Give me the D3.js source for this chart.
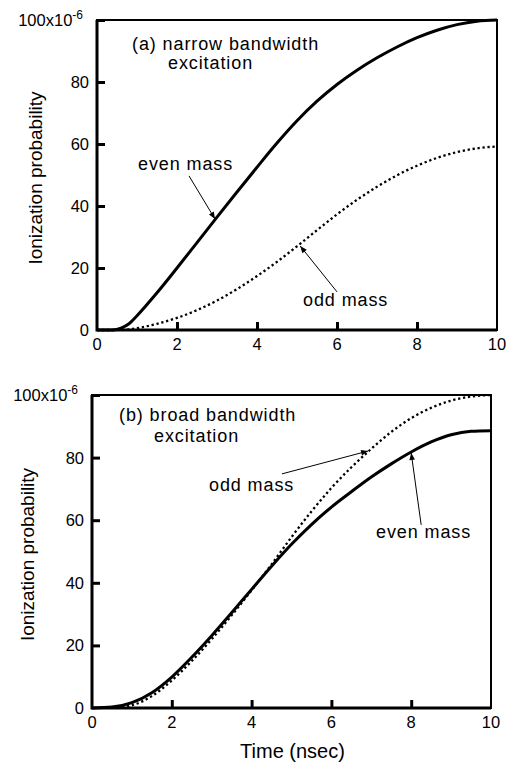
<!DOCTYPE html>
<html>
<head>
<meta charset="utf-8">
<script src="https://cdn.jsdelivr.net/npm/d3@7"></script>
<style>
  body { margin: 0; background: #fff; }
  svg text { font-family: "Liberation Sans", Arial, Helvetica, sans-serif; fill: #000; }
</style>
</head>
<body>
<div id="chart"></div>
<script>
// time axis (nsec) and the two curves of each panel, ionization probability in units of 1e-6
var timeA = [0, 0.4, 0.6, 0.8, 1.0, 1.5, 2, 2.5, 3, 3.5, 4, 4.5, 5, 5.5, 6, 6.5, 7, 7.5, 8, 8.5, 9, 9.5, 10];
var evenA = [0, 0, 0.6, 2, 4.6, 12, 20, 28.2, 36.4, 44.5, 52.5, 60.3, 67.5, 73.8, 79.2, 83.8, 87.8, 91.3, 94.3, 96.7, 98.5, 99.6, 100];
var oddA  = [0, 0, 0.05, 0.2, 0.6, 2, 3.9, 6.4, 9.5, 13.2, 17.4, 22, 27, 32.2, 37.3, 42, 46.2, 49.9, 53, 55.5, 57.4, 58.6, 59.2];

var timeB = [0, 0.5, 1, 1.5, 2, 2.5, 3, 3.5, 4, 4.5, 5, 5.5, 6, 6.5, 7, 7.5, 8, 8.5, 9, 9.5, 10];
var evenB = [0, 0.3, 1.7, 4.9, 9.9, 16.2, 23.1, 30.4, 37.9, 45.3, 52.3, 58.6, 64.2, 69.1, 73.8, 78, 81.8, 85, 87.3, 88.4, 88.6];
var oddB  = [0, 0.1, 0.9, 3.8, 8.8, 15, 22, 29.6, 37.6, 45.9, 54.6, 62.8, 70.3, 76.9, 82.8, 88.2, 92.6, 95.9, 98.2, 99.5, 100];

var xTicks = [0, 2, 4, 6, 8, 10];
var yTicks = [0, 20, 40, 60, 80, 100];

var width = 509, height = 763;
var svg = d3.select('#chart').append('svg')
    .attr('width', width)
    .attr('height', height);

svg.append('defs').append('marker')
    .attr('id', 'arrow')
    .attr('viewBox', '0 0 10 10')
    .attr('refX', 10).attr('refY', 5)
    .attr('markerWidth', 9).attr('markerHeight', 7)
    .attr('markerUnits', 'userSpaceOnUse')
    .attr('orient', 'auto')
  .append('path')
    .attr('d', 'M0,1 L10,5 L0,9 Z')
    .attr('fill', '#000');

var panels = [
  {
    left: 97, right: 497, top: 20, bottom: 330, titleX: 42,
    time: timeA, even: evenA, odd: oddA,
    title: ['(a) narrow bandwidth', 'excitation'],
    titlePos: [[0.875, 90.3], [1.775, 84.2]],
    labels: [
      { text: 'even mass', at: [1.025, 51.6], from: [2.3, 49.7], to: [2.95, 35.8] },
      { text: 'odd mass', at: [5.15, 7.7], from: [6.0, 12.3], to: [5.08, 27.1] }
    ],
    xTitle: false
  },
  {
    left: 92, right: 491, top: 395, bottom: 708, titleX: 34,
    time: timeB, even: evenB, odd: oddB,
    title: ['(b) broad bandwidth', 'excitation'],
    titlePos: [[0.677, 91.7], [1.554, 85.0]],
    labels: [
      { text: 'odd mass', at: [2.932, 69.3], from: [4.76, 74.8], to: [6.92, 82.1] },
      { text: 'even mass', at: [7.118, 54.3], from: [8.25, 58.5], to: [8.0, 81.5] }
    ],
    xTitle: true
  }
];

panels.forEach(function(p) {
  var x = d3.scaleLinear().domain([0, 10]).range([p.left, p.right]);
  var y = d3.scaleLinear().domain([0, 100]).range([p.bottom, p.top]);
  var g = svg.append('g');

  // curves
  var line = d3.line()
      .x(function(d) { return x(d[0]); })
      .y(function(d) { return y(d[1]); })
      .curve(d3.curveMonotoneX);

  g.append('path')
      .attr('d', line(d3.zip(p.time, p.odd)))
      .attr('fill', 'none')
      .attr('stroke', '#000')
      .attr('stroke-width', 2.3)
      .attr('stroke-dasharray', '2.3,2.7');

  g.append('path')
      .attr('d', line(d3.zip(p.time, p.even)))
      .attr('fill', 'none')
      .attr('stroke', '#000')
      .attr('stroke-width', 3);

  // frame
  g.append('rect')
      .attr('x', p.left).attr('y', p.top)
      .attr('width', p.right - p.left).attr('height', p.bottom - p.top)
      .attr('fill', 'none').attr('stroke', '#000').attr('stroke-width', 2);
  g.append('path')
      .attr('d', 'M' + p.left + ',' + p.top + 'V' + p.bottom + 'H' + p.right)
      .attr('fill', 'none').attr('stroke', '#000').attr('stroke-width', 3);

  // y axis, ticks inward
  var yAxis = d3.axisRight(y).tickValues(yTicks.slice(1)).tickSize(8).tickFormat('');
  g.append('g')
      .attr('transform', 'translate(' + p.left + ',0)')
      .call(yAxis)
      .call(function(s) {
        s.select('.domain').remove();
        s.selectAll('line').attr('stroke-width', 3);
      });

  // x axis, ticks inward
  var xAxis = d3.axisTop(x).tickValues(xTicks.slice(1, -1)).tickSize(8).tickFormat('');
  g.append('g')
      .attr('transform', 'translate(0,' + p.bottom + ')')
      .call(xAxis)
      .call(function(s) {
        s.select('.domain').remove();
        s.selectAll('line').attr('stroke-width', 3);
      });

  // tick labels
  g.selectAll('.ylab').data(yTicks).enter().append('text')
      .attr('x', p.left - 8)
      .attr('y', function(d) { return y(d) + 6; })
      .attr('text-anchor', 'end')
      .attr('font-size', 16.5)
      .each(function(d) {
        var t = d3.select(this);
        if (d === 100) {
          t.attr('x', p.left - 14);
          t.append('tspan').text('100x10');
          t.append('tspan').attr('dy', -7).attr('font-size', 12).text('-6');
        } else {
          t.text(d);
        }
      });

  g.selectAll('.xlab').data(xTicks).enter().append('text')
      .attr('x', function(d) { return x(d); })
      .attr('y', p.bottom + 20)
      .attr('text-anchor', 'middle')
      .attr('font-size', 16.5)
      .text(function(d) { return d; });

  // axis titles
  g.append('text')
      .attr('transform', 'translate(' + p.titleX + ',' + ((p.top + p.bottom) / 2 + 3) + ') rotate(-90)')
      .attr('text-anchor', 'middle')
      .attr('font-size', 19)
      .text('Ionization probability');

  if (p.xTitle) {
    g.append('text')
        .attr('x', (p.left + p.right) / 2 + 1)
        .attr('y', 758)
        .attr('text-anchor', 'middle')
        .attr('font-size', 20)
        .text('Time (nsec)');
  }

  // panel title
  p.title.forEach(function(s, i) {
    g.append('text')
        .attr('x', x(p.titlePos[i][0]))
        .attr('y', y(p.titlePos[i][1]))
        .attr('font-size', 18)
        .attr('letter-spacing', 0.9)
        .text(s);
  });

  // curve labels with arrows
  p.labels.forEach(function(l) {
    g.append('text')
        .attr('x', x(l.at[0]))
        .attr('y', y(l.at[1]))
        .attr('font-size', 18)
        .attr('letter-spacing', 0.9)
        .text(l.text);
    g.append('line')
        .attr('x1', x(l.from[0])).attr('y1', y(l.from[1]))
        .attr('x2', x(l.to[0])).attr('y2', y(l.to[1]))
        .attr('stroke', '#000').attr('stroke-width', 1)
        .attr('marker-end', 'url(#arrow)');
  });
});
</script>
</body>
</html>
